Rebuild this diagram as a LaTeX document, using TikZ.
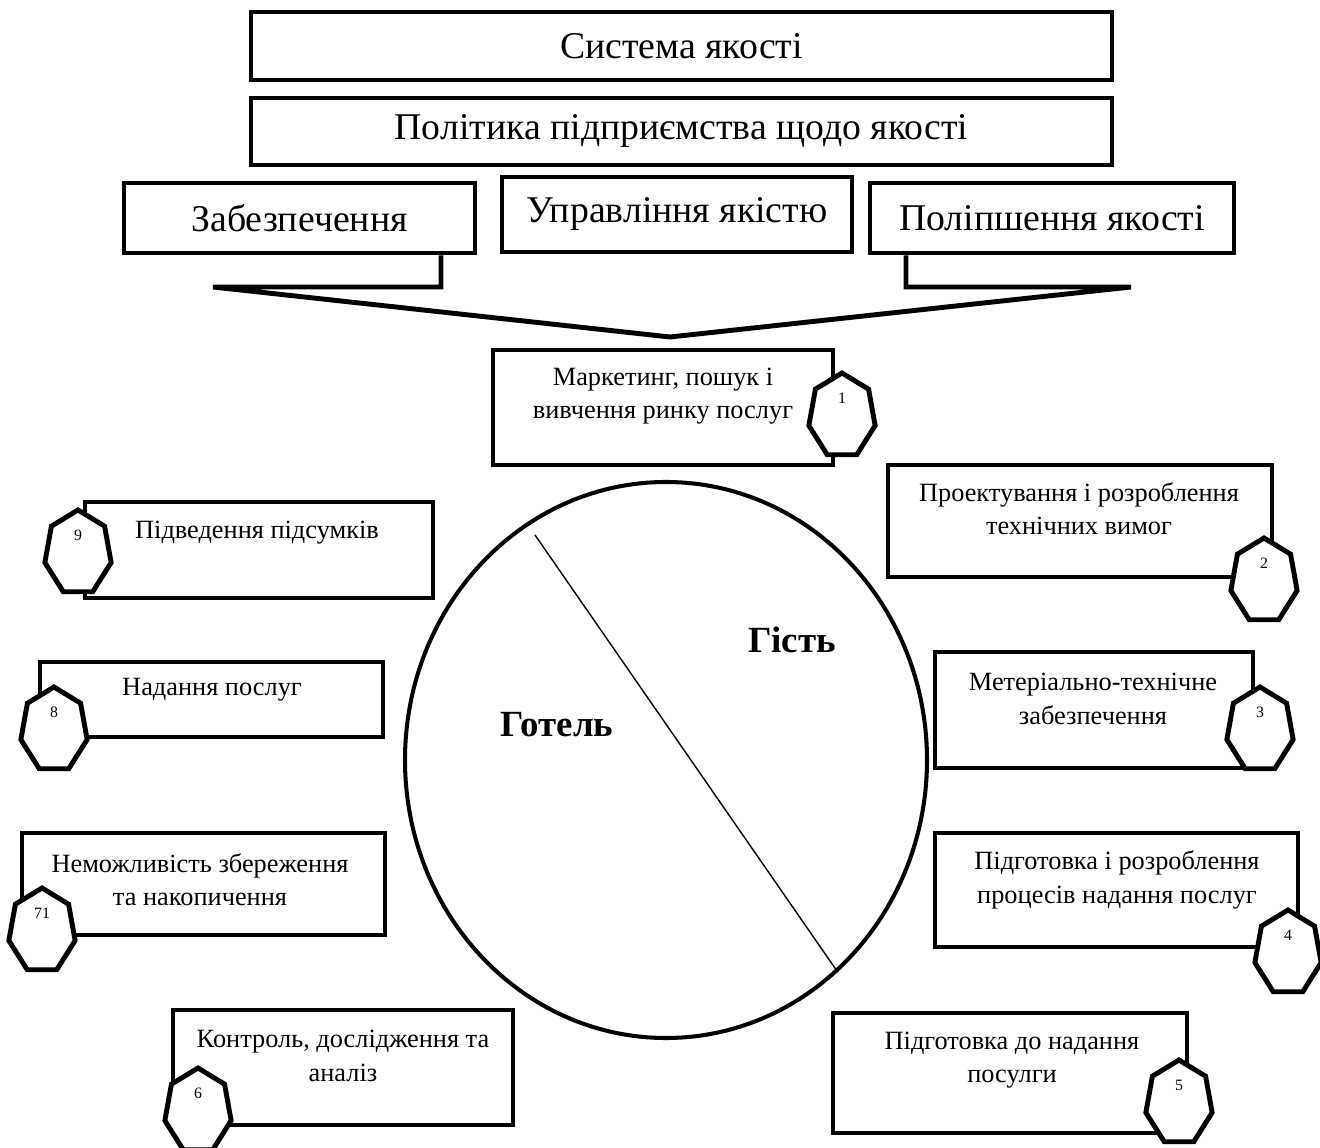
\documentclass[tikz,border=0pt]{standalone}
\usepackage{fontspec}
\setmainfont{Liberation Serif}
\usetikzlibrary{shapes.geometric}
\newdimen\px \px=0.02cm

\begin{document}
\begin{tikzpicture}[x=0.02cm, y=-0.02cm,
        box/.style={draw, line width=2.8pt, inner sep=0pt},
        title/.style={font=\fontsize{21.5}{25}\selectfont},
        txt/.style={align=center, inner sep=0pt, font=\fontsize{15}{19}\selectfont},
        num/.style={inner sep=0pt, font=\fontsize{9}{10}\selectfont},
        side/.style={inner sep=0pt, font=\bfseries\fontsize{21}{25}\selectfont},
        heptline/.style={draw, fill=white, line width=2.8pt},
        hept/.pic={
            \draw[heptline] (-90:34 and 43) \foreach \k in {1,...,6} {-- (-90+\k*360/7:34 and 43)} -- cycle;
            \node[num] (-num) at (0,-18) {#1};
        }]
        \useasboundingbox (0,0) rectangle (1320,1148);
        % top of the scheme
        \node[box, title, minimum width=861\px, minimum height=68\px] (sys) at (681.5,46) {Система якості};
        \node[box, title, minimum width=861\px, minimum height=67\px] (pol) at (681.5,131.5) {Політика підприємства щодо якості};
        \node[box, title, minimum width=351\px, minimum height=70\px] (zab) at (299.5,218) {Забезпечення};
        \node[box, title, minimum width=350\px, minimum height=75\px] (upr) at (677,214.5) {Управління якістю};
        \node[box, title, minimum width=364\px, minimum height=70\px] (pop) at (1052,218) {Поліпшення якості};
        \coordinate (tip) at (670,337);
        \draw[line width=2.8pt] (441,0 |- zab.south) -- (441,287) -- (213,287) -- (tip)
                                -- (1131,287) -- (906,287) -- (906,0 |- pop.south);

        % hotel / guest
        \node[draw, ellipse, line width=2.3pt, inner sep=0pt, minimum width=522\px, minimum height=556\px] (hotel) at (666,760) {};
        \coordinate (cut) at (535,535);
        \draw[line width=0.8pt] (cut) -- (hotel.-51);
        \node[side] (guest) at (792,640) {Гість};
        \node[side] (hot) at (557,725) {Готель};

        % stages round the circle
        \node[box, minimum width=340\px, minimum height=115\px] (mk) at (663,407.5) {};
        \node[txt] (mk-t) at (663,396) {Маркетинг, пошук і\\вивчення ринку послуг};
        \node[box, minimum width=384\px, minimum height=112\px] (pr) at (1080,521) {};
        \node[txt] (pr-t) at (1079,509) {Проектування і розроблення\\технічних вимог};
        \node[box, minimum width=318\px, minimum height=116\px] (mt) at (1094,710) {};
        \node[txt] (mt-t) at (1093,699) {Метеріально-технічне\\забезпечення};
        \node[box, minimum width=363\px, minimum height=114\px] (pg) at (1116.5,890) {};
        \node[txt] (pg-t) at (1117,880) {Підготовка і розроблення\\процесів надання послуг};
        \node[box, minimum width=354\px, minimum height=120\px] (pd) at (1010,1073) {};
        \node[txt] (pd-t) at (1012,1060) {Підготовка до надання\\посулги};
        \node[box, minimum width=340\px, minimum height=115\px] (kn) at (343,1067.5) {};
        \node[txt] (kn-t) at (343,1056) {Контроль, дослідження та\\аналіз};
        \node[box, minimum width=363\px, minimum height=102\px] (nm) at (203.5,884) {};
        \node[txt] (nm-t) at (200,880) {Неможливість збереження\\та накопичення};
        \node[box, minimum width=343\px, minimum height=75\px] (nd) at (211.5,699.5) {};
        \node[txt] (nd-t) at (212,690) {Надання послуг};
        \node[box, minimum width=348\px, minimum height=96\px] (pid) at (259,550) {};
        \node[txt] (pid-t) at (257,533) {Підведення підсумків};

        % numbered heptagons
        \pic (h1) at (842,416) {hept=1};
        \pic (h2) at (1264,581) {hept=2};
        \pic (h3) at (1260,730) {hept=3};
        \pic (h4) at (1288,953) {hept=4};
        \pic (h5) at (1179,1103) {hept=5};
        \pic (h6) at (198,1111) {hept=6};
        \pic (h71) at (42,931) {hept=71};
        \pic (h8) at (54,730) {hept=8};
        \pic (h9) at (78,553) {hept=9};
\end{tikzpicture}
\end{document}
